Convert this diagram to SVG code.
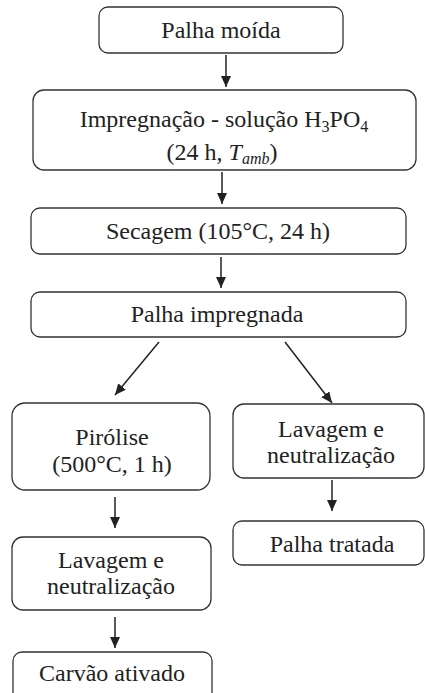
<svg xmlns="http://www.w3.org/2000/svg" width="425" height="693" viewBox="0 0 425 693">
<style>
.box{fill:#fff;stroke:#333;stroke-width:1.3}
text{font-family:'Liberation Serif','DejaVu Serif',serif;font-size:24px;fill:#222;text-anchor:middle}
.s{font-size:16px}
.c{stroke:#222;stroke-width:1.5;fill:none}
</style>
<defs>
<marker id="ah" viewBox="0 0 11 10" refX="11" refY="5" markerWidth="11" markerHeight="10" orient="auto" markerUnits="userSpaceOnUse">
<path d="M0,0 L11,5 L0,10 z" fill="#222"/>
</marker>
</defs>
<rect width="425" height="693" fill="#fff"/>
<g id="n1"><rect class="box" x="99" y="7" width="244" height="46" rx="9"/><text x="221" y="38">Palha moída</text></g>
<g id="n2"><rect class="box" x="33" y="90" width="383" height="80" rx="11"/><text x="224" y="127">Impregnação - solução H<tspan class="s" dy="5">3</tspan><tspan dy="-5">PO</tspan><tspan class="s" dy="5">4</tspan></text><text x="222" y="160">(24 h, <tspan font-style="italic">T</tspan><tspan font-style="italic" class="s" dy="4">amb</tspan><tspan dy="-4">)</tspan></text></g>
<g id="n3"><rect class="box" x="31" y="208" width="375" height="46" rx="9"/><text x="218" y="239">Secagem (105°C, 24 h)</text></g>
<g id="n4"><rect class="box" x="31" y="292" width="375" height="45" rx="9"/><text x="217" y="322">Palha impregnada</text></g>
<g id="n5"><rect class="box" x="12" y="403" width="198" height="87" rx="13"/><text x="112" y="445">Pirólise</text><text x="112" y="472">(500°C, 1 h)</text></g>
<g id="n6"><rect class="box" x="233" y="404" width="191" height="74" rx="11"/><text x="331" y="437">Lavagem e</text><text x="331" y="463">neutralização</text></g>
<g id="n7"><rect class="box" x="233" y="521" width="191" height="44" rx="9"/><text x="332" y="552">Palha tratada</text></g>
<g id="n8"><rect class="box" x="12" y="537" width="199" height="73" rx="11"/><text x="111" y="568">Lavagem e</text><text x="111" y="594">neutralização</text></g>
<g id="n9"><rect class="box" x="13" y="652" width="199" height="50" rx="9"/><text x="112" y="681">Carvão ativado</text></g>
<g id="connectors">
<line class="c" x1="226" y1="55" x2="226" y2="87" marker-end="url(#ah)"/>
<line class="c" x1="222" y1="172" x2="222" y2="204" marker-end="url(#ah)"/>
<line class="c" x1="221" y1="257" x2="221" y2="288" marker-end="url(#ah)"/>
<line class="c" x1="159" y1="342" x2="115" y2="395" marker-end="url(#ah)"/>
<line class="c" x1="285" y1="342" x2="332" y2="403" marker-end="url(#ah)"/>
<line class="c" x1="332" y1="480" x2="332" y2="511" marker-end="url(#ah)"/>
<line class="c" x1="115" y1="497" x2="115" y2="528" marker-end="url(#ah)"/>
<line class="c" x1="115" y1="617" x2="115" y2="648" marker-end="url(#ah)"/>
</g>
</svg>
